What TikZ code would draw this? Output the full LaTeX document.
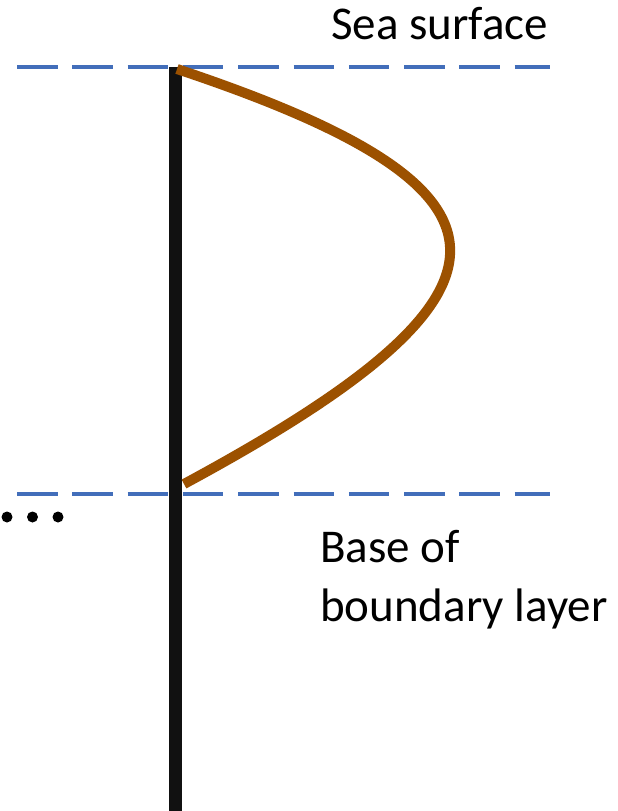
\documentclass[tikz,border=0pt]{standalone}
\usepackage{fontspec}
\setmainfont{Carlito}
\definecolor{dashblue}{RGB}{66,110,186}
\definecolor{profbrown}{RGB}{156,81,0}
\definecolor{axisblack}{RGB}{17,17,17}
\begin{document}
\begin{tikzpicture}[x=1pt,y=-1pt,
  level/.style={draw=dashblue,line width=4.5pt,dash pattern=on 40.5pt off 14.8pt},
  axisline/.style={draw=axisblack,line width=13pt},
  profile/.style={draw=profbrown,line width=10pt},
  lbl/.style={inner sep=0pt,anchor=base west,font=\fontsize{47}{57}\selectfont},
  dotstyle/.style={fill=black}]
\useasboundingbox (0,0) rectangle (618,811);
% levels
\coordinate (s1) at (17,67);
\coordinate (s2) at (550,67);
\coordinate (b1) at (17,494);
\coordinate (b2) at (550,494);
\draw[level] (s1) -- (s2);
\draw[level] (b1) -- (b2);
% vertical axis
\coordinate (atop) at (175,67);
\coordinate (abot) at (175,815);
\draw[axisline] (atop) -- (abot);
% profile curve
\coordinate (p0) at (177,69);
\coordinate (p3) at (184,484);
\draw[profile] (p0) .. controls (540,190) and (540,292) .. (p3);
% dots
\fill[dotstyle] (7,517) circle (5.5pt);
\fill[dotstyle] (32.5,517) circle (5.5pt);
\fill[dotstyle] (58,517) circle (5.5pt);
% labels
\node[lbl] (sea) at (331,39) {Sea surface};
\node[lbl] (basea) at (320,562) {Base of};
\node[lbl] (baseb) at (320,621) {boundary layer};
\end{tikzpicture}
\end{document}
